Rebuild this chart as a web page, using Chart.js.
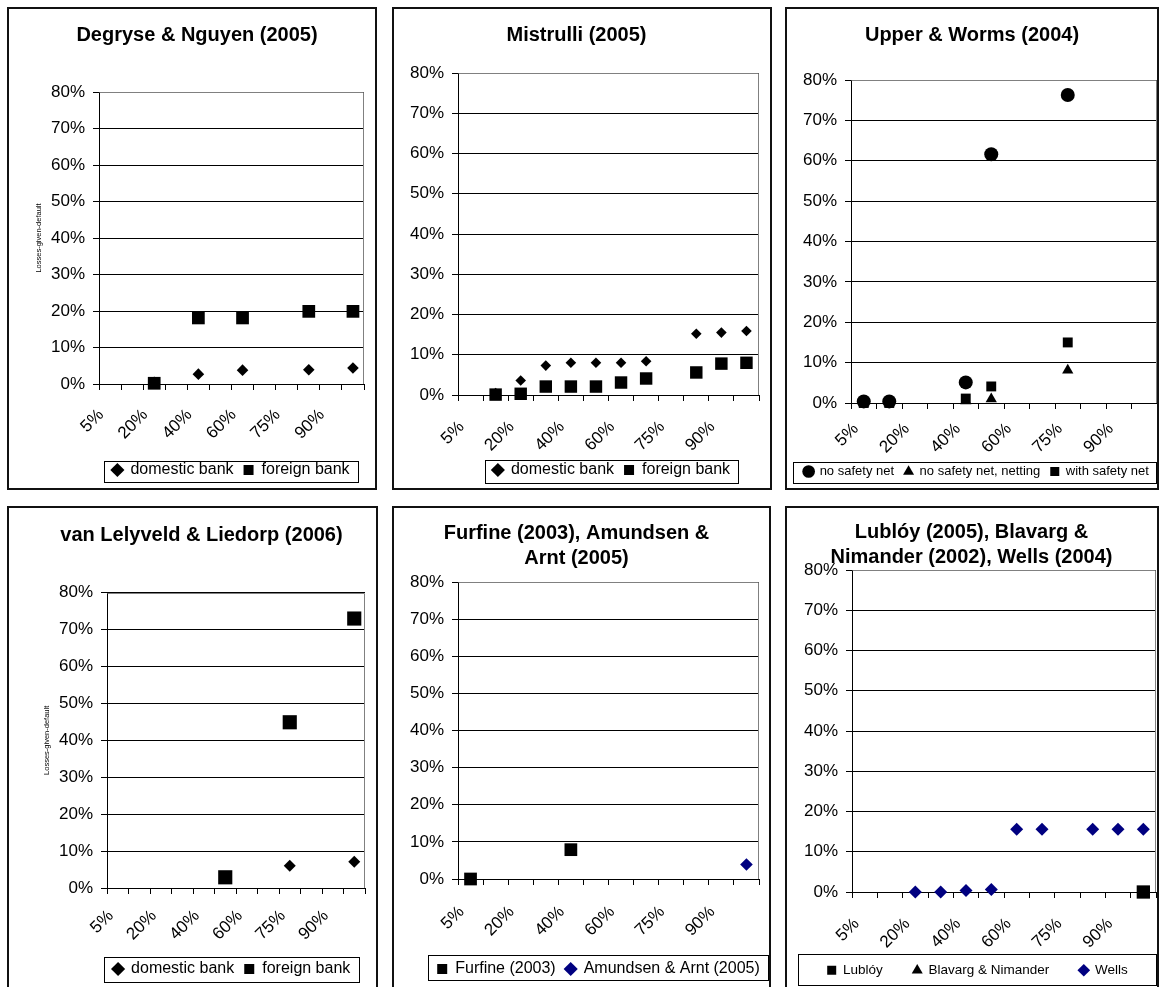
<!DOCTYPE html>
<html>
<head>
<meta charset="utf-8">
<script src="https://cdn.jsdelivr.net/npm/chart.js@4.4.1/dist/chart.umd.min.js"></script>
<style>
  html, body { margin: 0; padding: 0; background: #fff; overflow: hidden; }
  body { width: 1163px; height: 987px; position: relative; }
  .panel { position: absolute; border: 2px solid #111; box-sizing: border-box; background: #fff; }
  .panel canvas { display: block; }
</style>
</head>
<body>
<div class="panel" style="left:7px;top:7px;width:370px;height:483px"><canvas id="c1" width="366" height="479"></canvas></div>
<div class="panel" style="left:392px;top:7px;width:380px;height:483px"><canvas id="c2" width="376" height="479"></canvas></div>
<div class="panel" style="left:785px;top:7px;width:374px;height:483px"><canvas id="c3" width="370" height="479"></canvas></div>
<div class="panel" style="left:7px;top:506px;width:371px;height:490px"><canvas id="c4" width="367" height="479"></canvas></div>
<div class="panel" style="left:392px;top:506px;width:379px;height:490px"><canvas id="c5" width="375" height="479"></canvas></div>
<div class="panel" style="left:785px;top:506px;width:374px;height:490px"><canvas id="c6" width="370" height="479"></canvas></div>

<script>
// x categories, only every other one is labelled in the original
const xTickLabels = ['5%', '', '20%', '', '40%', '', '60%', '', '75%', '', '90%', ''];

// values in % (losses given default)
const degryseDomestic = [null, null, 0.5, null, 2.7, null, 3.8, null, null, 3.9, null, 4.4];
const degryseForeign = [null, null, 0.2, null, 18.1, null, 18.1, null, null, 19.9, null, 19.9];

const mistrulliDomestic = [null, 0.5, 3.6, 7.3, 8.0, 8.0, 8.0, 8.4, null, 15.2, 15.5, 15.9];
const mistrulliForeign = [null, 0.1, 0.3, 2.1, 2.1, 2.1, 3.1, 4.1, null, 5.6, 7.8, 8.0];

const upperNoNet = [0.4, 0.4, null, null, 5.1, 61.6, null, null, 76.3, null, null, null];
const upperNoNetNetting = [0, 0, null, null, 0.5, 1.0, null, null, 8.1, null, null, null];
const upperWithNet = [0, 0, null, null, 1.1, 4.1, null, null, 15.0, null, null, null];

const lelyveldDomestic = [null, null, null, null, null, 3.0, null, null, 6.0, null, null, 7.1];
const lelyveldForeign = [null, null, null, null, null, 2.9, null, null, 44.9, null, null, 73.0];

const furfine = [0, null, null, null, 7.9, null, null, null, null, null, null, null];
const amundsenArnt = [null, null, null, null, null, null, null, null, null, null, null, 3.9];

const lubloy = [null, null, null, null, null, null, null, null, null, null, null, 0];
const blavargNimander = [null, null, null, null, null, null, null, null, null, null, null, null];
const wells = [null, null, 0, 0, 0.4, 0.6, 15.6, 15.6, null, 15.6, 15.6, 15.6];

const FONT = 'Arial, "Liberation Sans", sans-serif';
Chart.defaults.font.family = FONT;
Chart.defaults.color = '#000';

// plot border (grey top/right), legend placement and legend frame
const frameBox = {
  id: 'frameBox',
  afterLayout(chart, args, opts) {
    const lg = chart.legend;
    if (lg && opts.legendCenter != null) {
      lg.left = opts.legendCenter - 260;
      lg.right = opts.legendCenter + 260;
      lg.width = 520;
    }
    // let the rotated x labels run below the axis box
    chart.scales.x.bottom = chart.height;
  },
  beforeDatasetsDraw(chart) {
    const ctx = chart.ctx;
    const a = chart.chartArea;
    ctx.save();
    ctx.strokeStyle = '#808080';
    ctx.lineWidth = 1;
    ctx.beginPath();
    ctx.moveTo(Math.round(a.left) + 0.5, Math.round(a.top) + 0.5);
    ctx.lineTo(Math.round(a.right) - 0.5, Math.round(a.top) + 0.5);
    ctx.lineTo(Math.round(a.right) - 0.5, Math.round(a.bottom));
    ctx.stroke();
    ctx.restore();
  },
  afterDraw(chart, args, opts) {
    if (!opts.legendFrame) return;
    const f = opts.legendFrame;
    const ctx = chart.ctx;
    ctx.save();
    ctx.strokeStyle = '#000';
    ctx.lineWidth = 1;
    ctx.strokeRect(Math.round(f[0]) + 0.5, Math.round(f[1]) + 0.5, Math.round(f[2] - f[0]), Math.round(f[3] - f[1]));
    ctx.restore();
  }
};

function makePanel(id, geo, title, series) {
  const canvas = document.getElementById(id);
  const W = canvas.width, H = canvas.height;
  const lh = 25;
  const lines = Array.isArray(title) ? title.length : 1;
  const legendH = geo.legendFont + geo.legendPad + 10;
  return new Chart(canvas, {
    type: 'line',
    data: {
      labels: xTickLabels,
      datasets: series.map((s, i) => ({
        label: s.label,
        data: s.data,
        order: -i, // later series drawn on top, like the original
        showLine: false,
        pointStyle: s.style,
        pointRadius: s.radius,
        pointBackgroundColor: s.color,
        pointBorderColor: s.color,
        pointBorderWidth: 0,
        backgroundColor: s.color,
        borderColor: s.color,
        borderWidth: 0,
        clip: false
      }))
    },
    options: {
      responsive: false,
      animation: false,
      events: [],
      layout: {
        autoPadding: false,
        padding: { left: geo.padLeft, right: W - geo.right, top: 0, bottom: 0 }
      },
      plugins: {
        title: {
          display: true,
          text: title,
          color: '#000',
          font: { size: 20, weight: 'bold', lineHeight: 1.25 },
          padding: { top: geo.titleY - lh / 2, bottom: geo.top - (geo.titleY - lh / 2) - lines * lh }
        },
        legend: {
          position: 'bottom',
          labels: {
            usePointStyle: true,
            boxWidth: geo.legendBox,
            boxHeight: geo.legendBox,
            padding: geo.legendPad,
            color: '#000',
            font: { size: geo.legendFont },
            sort: (a, b) => a.datasetIndex - b.datasetIndex
          }
        },
        tooltip: { enabled: false },
        frameBox: { legendCenter: geo.legendCenter, legendFrame: geo.legendFrame }
      },
      scales: {
        x: {
          offset: true,
          grid: { offset: true, drawOnChartArea: false, tickLength: 6, color: '#000' },
          border: { color: '#000' },
          ticks: {
            autoSkip: false, maxRotation: 45, minRotation: 45,
            padding: geo.xPad, labelOffset: geo.xShift,
            color: '#000', font: { size: 17 }
          },
          afterFit: s => {
            s.height = H - legendH - geo.bottom;
            s.paddingLeft = 0;
            s.paddingRight = 0;
          }
        },
        y: {
          min: 0,
          max: 80,
          ticks: { stepSize: 10, padding: 8, color: '#000', font: { size: 17 }, callback: v => v + '%' },
          grid: { color: '#000', tickLength: 6 },
          border: { color: '#000' },
          title: {
            display: !!geo.yTitle,
            text: 'Losses-given-default',
            color: '#000',
            font: { size: 7.5 },
            padding: { top: 4, bottom: 0 }
          },
          afterFit: s => { s.width = geo.left - geo.padLeft; }
        }
      }
    },
    plugins: [frameBox]
  });
}

const BLACK = '#000000';
const NAVY = '#000080';

makePanel('c1',
  { left: 90, top: 83, right: 355, bottom: 375, padLeft: 21, titleY: 26, legendFont: 16, legendPad: 10, legendBox: 10,
    legendCenter: 222, legendFrame: [95, 452, 349, 473], xPad: 15, xShift: -9, yTitle: true },
  'Degryse & Nguyen (2005)',
  [
    { label: 'domestic bank', data: degryseDomestic, style: 'rectRot', radius: 5.8, color: BLACK },
    { label: 'foreign bank', data: degryseForeign, style: 'rect', radius: 9, color: BLACK }
  ]);

makePanel('c2',
  { left: 64, top: 64, right: 365, bottom: 386, padLeft: 0, titleY: 26, legendFont: 16, legendPad: 10, legendBox: 10,
    legendCenter: 217.5, legendFrame: [91, 451, 344, 474], xPad: 16, xShift: -9 },
  'Mistrulli (2005)',
  [
    { label: 'domestic bank', data: mistrulliDomestic, style: 'rectRot', radius: 5.3, color: BLACK },
    { label: 'foreign bank', data: mistrulliForeign, style: 'rect', radius: 8.8, color: BLACK }
  ]);

makePanel('c3',
  { left: 64, top: 71, right: 370, bottom: 394, padLeft: 0, titleY: 26, legendFont: 13, legendPad: 10, legendBox: 9,
    legendCenter: 189.5, legendFrame: [6, 453, 369, 474], xPad: 10, xShift: -8 },
  'Upper & Worms (2004)',
  [
    { label: 'no safety net', data: upperNoNet, style: 'circle', radius: 7, color: BLACK },
    { label: 'no safety net, netting', data: upperNoNetNetting, style: 'triangle', radius: 6.5, color: BLACK },
    { label: 'with safety net', data: upperWithNet, style: 'rect', radius: 7, color: BLACK }
  ]);

makePanel('c4',
  { left: 98, top: 84.7, right: 356, bottom: 380, padLeft: 29, titleY: 27, legendFont: 16, legendPad: 10, legendBox: 10,
    legendCenter: 222.7, legendFrame: [95, 449, 350, 474], xPad: 12, xShift: -7, yTitle: true },
  'van Lelyveld & Liedorp (2006)',
  [
    { label: 'domestic bank', data: lelyveldDomestic, style: 'rectRot', radius: 6, color: BLACK },
    { label: 'foreign bank', data: lelyveldForeign, style: 'rect', radius: 10, color: BLACK }
  ]);

makePanel('c5',
  { left: 64, top: 74, right: 365, bottom: 371, padLeft: 0, titleY: 25, legendFont: 16, legendPad: 10, legendBox: 10,
    legendCenter: 204.5, legendFrame: [34, 447, 374, 472], xPad: 17, xShift: -9 },
  ['Furfine (2003), Amundsen &', 'Arnt (2005)'],
  [
    { label: 'Furfine (2003)', data: furfine, style: 'rect', radius: 9, color: BLACK },
    { label: 'Amundsen & Arnt (2005)', data: amundsenArnt, style: 'rectRot', radius: 6.3, color: NAVY }
  ]);

makePanel('c6',
  { left: 65, top: 62, right: 369, bottom: 384, padLeft: 0, titleY: 24, legendFont: 13.5, legendPad: 30, legendBox: 9,
    legendCenter: 190.5, legendFrame: [11, 446, 369, 477], xPad: 16, xShift: -8 },
  ['Lublóy (2005), Blavarg &', 'Nimander (2002), Wells (2004)'],
  [
    { label: 'Lublóy', data: lubloy, style: 'rect', radius: 9.4, color: BLACK },
    { label: 'Blavarg & Nimander', data: blavargNimander, style: 'triangle', radius: 6.5, color: BLACK },
    { label: 'Wells', data: wells, style: 'rectRot', radius: 6.5, color: NAVY }
  ]);
</script>
</body>
</html>
